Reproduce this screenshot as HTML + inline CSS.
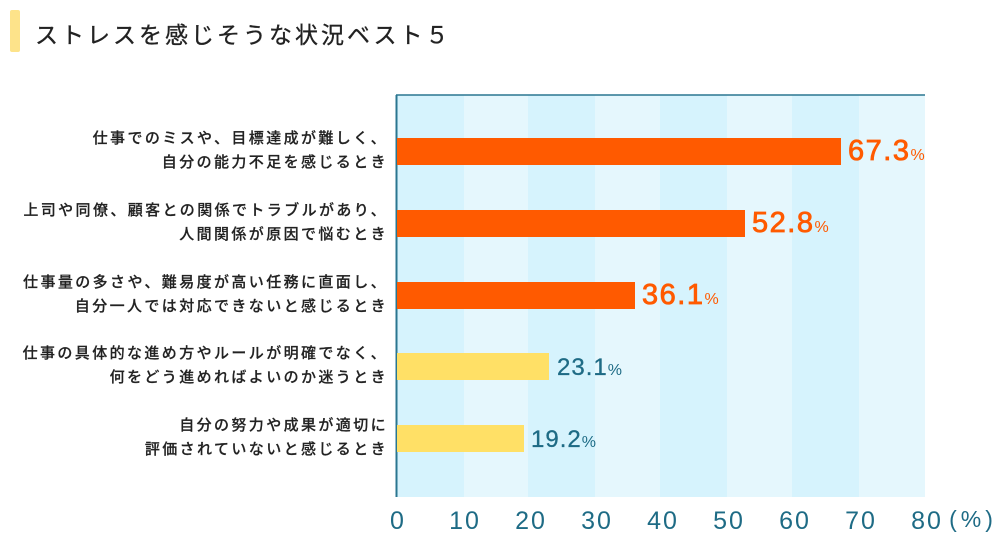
<!DOCTYPE html>
<html><head><meta charset="utf-8"><style>
body{margin:0;width:1000px;height:540px;background:#fff;font-family:"Liberation Sans","Noto Sans CJK JP",sans-serif;position:relative;overflow:hidden}
.t{position:absolute;white-space:nowrap}
.lab{position:absolute;right:612px;text-align:right;font-size:15px;line-height:24px;color:#222;letter-spacing:2.4px;white-space:nowrap;font-weight:500;-webkit-text-stroke:0.2px #222}
.v{position:absolute;white-space:nowrap}
.v small{font-size:16px;font-weight:normal;-webkit-text-stroke:0}
</style></head><body>
<div style="position:absolute;left:10px;top:10px;width:10px;height:42px;background:#fde38a;border-radius:2px"></div>
<div class="t" style="left:35px;top:16px;font-size:23px;color:#222;letter-spacing:3px;-webkit-text-stroke:0.3px #222">ストレスを感じそうな状況ベスト５</div>
<svg width="1000" height="540" style="position:absolute;left:0;top:0">
<g>
<rect x="397" y="95" width="67" height="402" fill="#d6f3fd"/>
<rect x="464" y="95" width="64" height="402" fill="#e5f7fd"/>
<rect x="528" y="95" width="67" height="402" fill="#d6f3fd"/>
<rect x="595" y="95" width="65" height="402" fill="#e5f7fd"/>
<rect x="660" y="95" width="67" height="402" fill="#d6f3fd"/>
<rect x="727" y="95" width="65" height="402" fill="#e5f7fd"/>
<rect x="792" y="95" width="67" height="402" fill="#d6f3fd"/>
<rect x="859" y="95" width="66" height="402" fill="#e5f7fd"/>
</g>
<line x1="396" y1="95" x2="925" y2="95" stroke="#2a7690" stroke-width="1.5"/>
<line x1="396.5" y1="95" x2="396.5" y2="497" stroke="#2a7690" stroke-width="2"/>
<rect x="397" y="138" width="444" height="27" fill="#ff5a00"/>
<rect x="397" y="210" width="348" height="27" fill="#ff5a00"/>
<rect x="397" y="282" width="238" height="27" fill="#ff5a00"/>
<rect x="397" y="353" width="152" height="27" fill="#ffe066"/>
<rect x="397" y="425" width="127" height="27" fill="#ffe066"/>
<g fill="#1e6b85" font-size="25" font-family="Liberation Sans, sans-serif" text-anchor="middle" letter-spacing="2">
<text x="398" y="529">0</text><text x="465" y="529">10</text><text x="531" y="529">20</text><text x="597" y="529">30</text><text x="663" y="529">40</text><text x="729" y="529">50</text><text x="795" y="529">60</text><text x="861" y="529">70</text><text x="927" y="529">80</text><text x="973" y="527" font-size="23" letter-spacing="4">(%)</text>
</g>
</svg>
<div class="lab" style="top:127px">仕事でのミスや、目標達成が難しく、<br>自分の能力不足を感じるとき</div>
<div class="lab" style="top:199px">上司や同僚、顧客との関係でトラブルがあり、<br>人間関係が原因で悩むとき</div>
<div class="lab" style="top:271px">仕事量の多さや、難易度が高い任務に直面し、<br>自分一人では対応できないと感じるとき</div>
<div class="lab" style="top:342px">仕事の具体的な進め方やルールが明確でなく、<br>何をどう進めればよいのか迷うとき</div>
<div class="lab" style="top:414px">自分の努力や成果が適切に<br>評価されていないと感じるとき</div>
<div class="v" style="left:848px;top:135px;font-size:29px;color:#ff5a00;letter-spacing:1.5px;-webkit-text-stroke:0.8px #ff5a00">67.3<small>%</small></div>
<div class="v" style="left:752px;top:207px;font-size:29px;color:#ff5a00;letter-spacing:1.5px;-webkit-text-stroke:0.8px #ff5a00">52.8<small>%</small></div>
<div class="v" style="left:642px;top:279px;font-size:29px;color:#ff5a00;letter-spacing:1.5px;-webkit-text-stroke:0.8px #ff5a00">36.1<small>%</small></div>
<div class="v" style="left:557px;top:354px;font-size:24px;color:#1e6b85;letter-spacing:1px;-webkit-text-stroke:0.3px #1e6b85">23.1<small>%</small></div>
<div class="v" style="left:531px;top:426px;font-size:24px;color:#1e6b85;letter-spacing:1px;-webkit-text-stroke:0.3px #1e6b85">19.2<small>%</small></div>
</body></html>
